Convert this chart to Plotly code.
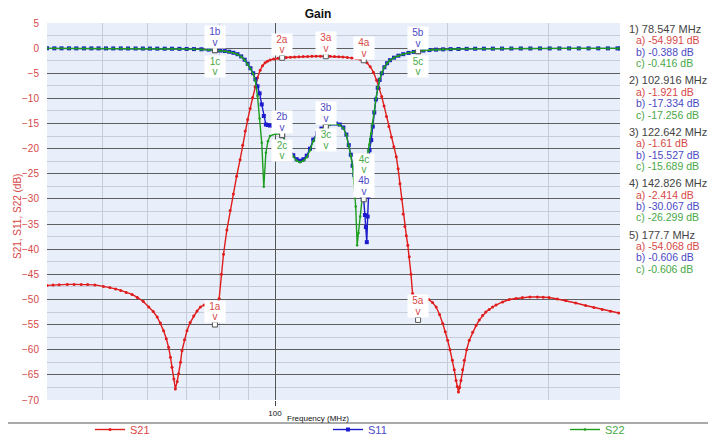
import math
import plotly.graph_objects as go

# ---------------- data ----------------
freq_s21 = [40.0, 41.0, 42.0, 43.4, 44.6, 45.9, 47.1, 48.5, 50.2, 51.5, 52.7, 53.8, 55.0, 56.3,
            57.5, 58.9, 60.2, 61.3, 62.3, 63.1, 63.9, 64.6, 65.2, 65.7, 66.1, 66.6, 67.0, 67.5,
            67.9, 68.4, 68.8, 69.5, 70.2, 71.1, 72.1, 73.1, 74.1, 75.2, 76.3, 77.4, 78.5, 79.2,
            79.9, 80.6, 81.3, 82.4, 83.5, 84.6, 85.7, 86.9, 87.8, 88.7, 89.6, 90.5, 91.4, 92.3,
            93.2, 94.2, 95.1, 96.1, 97.0, 98.0, 99.5, 101.2, 102.9, 104.6, 106.4, 108.2, 110.1,
            112.0, 114.0, 116.0, 118.0, 120.0, 122.6, 124.8, 127.0, 129.2, 131.4, 133.7, 136.1,
            138.5, 140.7, 142.8, 144.7, 146.6, 148.5, 150.4, 152.0, 153.5, 155.0, 156.5, 158.0,
            159.6, 161.2, 162.8, 164.0, 165.2, 166.3, 167.3, 168.5, 169.5, 170.5, 171.5, 172.7,
            173.8, 175.0, 176.4, 177.7, 179.2, 181.0, 183.0, 185.5, 188.3, 191.1, 193.7, 196.2,
            198.2, 200.1, 202.0, 204.0, 205.5, 207.0, 208.0, 209.0, 210.0, 211.1, 212.5, 213.9,
            216.0, 218.3, 221.2, 224.3, 227.2, 230.2, 233.3, 236.4, 239.7, 243.0, 249.5, 256.3,
            263.2, 270.2, 278.5, 287.0, 293.8, 300.8, 311.0, 321.6, 334.8, 348.4, 360.2, 372.4,
            385.0, 398.1]
s21_db = [-47.2, -47.1, -47.05, -47.0, -47.0, -47.0, -47.0, -47.1, -47.4, -47.6, -47.9, -48.2, -48.6, -49.0,
          -49.6, -50.4, -51.5, -52.4, -53.5, -54.7, -56.2, -57.8, -59.5, -61.5, -63.5, -65.8, -67.8, -66.3,
          -64.8, -62.5, -60.2, -58.0, -56.2, -54.6, -53.3, -52.3, -51.5, -51.1, -51.5, -53.0, -54.991, -53.0,
          -49.8, -45.0, -41.0, -36.2, -32.3, -29.0, -25.5, -22.2, -19.3, -16.5, -14.2, -12.0, -9.8, -7.7,
          -5.9, -4.4, -3.5, -2.9, -2.6, -2.35, -2.15, -2.0, -1.921, -1.86, -1.80, -1.75, -1.70,
          -1.67, -1.64, -1.62, -1.61, -1.60, -1.61, -1.63, -1.66, -1.70, -1.76, -1.84, -1.95,
          -2.08, -2.22, -2.414, -2.9, -3.7, -4.8, -6.4, -8.0, -9.6, -11.5, -13.6, -15.6,
          -17.7, -19.6, -21.6, -24.0, -27.0, -30.0, -33.0, -35.5, -37.3, -39.2, -41.5, -45.0,
          -48.8, -51.0, -53.0, -54.068, -53.0, -51.5, -50.3, -50.0, -50.6, -51.5, -53.0, -54.8,
          -56.4, -58.1, -60.0, -62.1, -64.0, -66.1, -67.3, -68.4, -67.5, -66.1, -64.0, -62.1,
          -60.0, -58.1, -56.5, -55.2, -54.1, -53.2, -52.5, -52.0, -51.5, -51.1, -50.5, -50.0,
          -49.8, -49.6, -49.5, -49.5, -49.55, -49.6, -49.9, -50.2, -50.7, -51.2, -51.6, -52.0,
          -52.35, -52.7]

freq_refl = [40.0, 41.2, 42.4, 43.7, 45.0, 46.4, 47.8, 49.2, 50.7, 52.2, 53.8, 55.4, 57.1, 58.8,
             60.5, 62.3, 64.2, 66.1, 68.1, 70.1, 72.2, 74.4, 76.6, 78.5, 80.2, 81.7, 83.2, 84.6,
             86.0, 87.3, 88.5, 89.6, 90.6, 91.6, 92.4, 93.2, 94.0, 94.8, 95.6, 96.4, 97.2, 98.0,
             100.4, 102.9, 105.2, 107.6, 109.1, 110.6, 112.1, 113.6, 115.1, 116.6, 118.5, 120.5,
             122.6, 124.2, 125.9, 127.7, 129.7, 131.6, 133.2, 134.5, 135.6, 136.6, 137.5, 138.3,
             139.1, 139.9, 140.8, 141.8, 142.8, 143.5, 144.1, 144.6, 145.1, 145.6, 146.2, 147.2,
             148.1, 149.0, 150.0, 151.1, 152.3, 153.6, 155.2, 156.9, 158.7, 161.3, 164.2, 167.4,
             171.0, 174.6, 177.7, 181.5, 186.0, 191.0, 196.5, 202.5, 209.0, 216.0, 223.5, 231.5,
             240.0, 249.0, 258.5, 268.5, 279.0, 290.0, 301.5, 313.5, 326.0, 339.0, 352.5, 366.5,
             381.0, 396.0, 400.0]
s11_db = [-0.04, -0.04, -0.04, -0.04, -0.05, -0.05, -0.05, -0.05, -0.06, -0.06, -0.06, -0.07, -0.07, -0.08,
          -0.09, -0.10, -0.11, -0.12, -0.14, -0.16, -0.19, -0.23, -0.29, -0.388, -0.48, -0.58, -0.72, -0.92,
          -1.20, -1.65, -2.30, -3.10, -4.00, -5.00, -6.20, -7.60, -9.00, -11.2, -13.5, -15.2, -15.3, -15.4,
          -16.3, -17.334, -19.3, -21.3, -22.1, -22.4, -22.1, -21.4, -20.0, -18.2, -16.9, -16.0,
          -15.527, -15.1, -15.0, -15.0, -15.2, -15.8, -17.2, -19.3, -21.2, -23.4, -25.2, -26.6,
          -27.6, -28.3, -28.9, -29.5, -30.067, -33.2, -35.6, -38.6, -33.5, -29.5, -20.3, -18.3,
          -15.6, -12.8, -10.2, -7.9, -6.3, -5.0, -3.8, -3.0, -2.4, -1.9, -1.5, -1.2,
          -0.95, -0.75, -0.606, -0.48, -0.38, -0.30, -0.24, -0.20, -0.17, -0.14, -0.12, -0.11,
          -0.10, -0.09, -0.08, -0.07, -0.07, -0.06, -0.06, -0.06, -0.05, -0.05, -0.05, -0.05,
          -0.05, -0.05, -0.05]
s22_db = [-0.04, -0.04, -0.04, -0.04, -0.05, -0.05, -0.05, -0.05, -0.06, -0.06, -0.06, -0.07, -0.07, -0.08,
          -0.09, -0.10, -0.11, -0.13, -0.15, -0.17, -0.20, -0.25, -0.31, -0.416, -0.50, -0.60, -0.75, -0.95,
          -1.25, -1.70, -2.35, -3.20, -4.10, -5.10, -6.5, -9.5, -14.0, -18.8, -27.6, -20.8, -18.5, -17.5,
          -17.0, -17.256, -19.5, -21.6, -22.4, -22.7, -22.4, -21.7, -20.3, -18.5, -17.1, -16.2,
          -15.689, -15.3, -15.1, -15.1, -15.3, -15.9, -17.3, -19.4, -21.4, -23.6, -27.0, -31.5,
          -39.2, -36.8, -33.5, -30.3, -26.299, -24.8, -23.5, -22.4, -21.4, -20.4, -19.2, -17.0,
          -15.0, -12.6, -10.0, -7.8, -6.2, -4.9, -3.8, -3.0, -2.4, -1.9, -1.5, -1.2,
          -0.95, -0.75, -0.606, -0.48, -0.38, -0.30, -0.24, -0.20, -0.17, -0.14, -0.12, -0.11,
          -0.10, -0.09, -0.08, -0.07, -0.07, -0.06, -0.06, -0.06, -0.05, -0.05, -0.05, -0.05,
          -0.05, -0.05, -0.05]

marker_freq = [78.547, 102.916, 122.642, 142.826, 177.7]
marker_s21 = [-54.991, -1.921, -1.61, -2.414, -54.068]
marker_s11 = [-0.388, -17.334, -15.527, -30.067, -0.606]
marker_s22 = [-0.416, -17.256, -15.689, -26.299, -0.606]

y_tick_step = 5
x_tick_vals = [100]
x_tick_text = ["100"]
x_grid_vals = [40, 50, 60, 70, 80, 90, 200, 300, 400]

# ---------------- layout helpers ----------------
W, H = 717, 435
L, R, T, B = 47, 620, 23, 400


def px_x(x):
    return (x - L) / (R - L)


def px_y(y):
    return (B - y) / (B - T)


RED, BLUE, GREEN = "#e01c1c", "#1c1ccc", "#1e9e1e"
RED_T, BLUE_T, GREEN_T = "#d64848", "#4a4ac4", "#48a848"
FONT = "Liberation Sans, Arial, sans-serif"

fig = go.Figure()
fig.add_trace(go.Scatter(
    x=freq_s21, y=s21_db, mode="lines+markers", legend="legend",
    name='<span style="color:%s">S21</span>' % RED_T,
    line=dict(color=RED, width=1.4), marker=dict(size=3, color=RED)))
fig.add_trace(go.Scatter(
    x=freq_refl, y=s11_db, mode="lines+markers", legend="legend2",
    name='<span style="color:%s">S11</span>' % BLUE_T,
    line=dict(color=BLUE, width=1.4), marker=dict(size=4, symbol="square", color=BLUE)))
fig.add_trace(go.Scatter(
    x=freq_refl, y=s22_db, mode="lines+markers", legend="legend3",
    name='<span style="color:%s">S22</span>' % GREEN_T,
    line=dict(color=GREEN, width=1.4), marker=dict(size=2.5, color=GREEN)))
fig.add_trace(go.Scatter(
    x=marker_freq * 3, y=marker_s21 + marker_s11 + marker_s22, mode="markers",
    marker=dict(symbol="square", size=5, color="white", line=dict(color="#555555", width=1)),
    showlegend=False, hoverinfo="skip"))

annotations = []

# marker labels: (label, marker index, colour, y pixel of first text line)
label_specs = [
    ("1b", 0, BLUE_T, 31.7), ("1c", 0, GREEN_T, 61.0), ("1a", 0, RED_T, 306.0),
    ("2a", 1, RED_T, 39.0), ("2b", 1, BLUE_T, 116.7), ("2c", 1, GREEN_T, 145.0),
    ("3a", 2, RED_T, 37.7), ("3b", 2, BLUE_T, 107.7), ("3c", 2, GREEN_T, 134.3),
    ("4a", 3, RED_T, 42.3), ("4c", 3, GREEN_T, 159.0), ("4b", 3, BLUE_T, 180.3),
    ("5b", 4, BLUE_T, 32.7), ("5c", 4, GREEN_T, 61.0), ("5a", 4, RED_T, 300.7),
]
for txt, idx, col, ypx in label_specs:
    xv = math.log10(marker_freq[idx])
    for t, yy in ((txt, ypx), ("v", ypx + 10.8)):
        annotations.append(dict(
            x=xv, xref="x", y=px_y(yy), yref="paper", text=t, showarrow=False,
            xanchor="center", yanchor="middle", bgcolor="white", borderpad=0,
            width=20, height=11, font=dict(family=FONT, size=10, color=col)))

# marker readout table on the right
for i in range(len(marker_freq)):
    y0 = 29.0 + 51.4 * i
    annotations.append(dict(
        x=px_x(626.5), xref="paper", y=px_y(y0), yref="paper",
        text="%d) %s MHz" % (i + 1, marker_freq[i]), showarrow=False,
        xanchor="left", yanchor="middle", font=dict(family=FONT, size=11, color="#444444")))
    for j, (lab, vals, col) in enumerate((("a", marker_s21, RED_T),
                                          ("b", marker_s11, BLUE_T),
                                          ("c", marker_s22, GREEN_T))):
        annotations.append(dict(
            x=px_x(634), xref="paper", y=px_y(y0 + 11.4 * (j + 1)), yref="paper",
            text="%s) %s dB" % (lab, vals[i]), showarrow=False,
            xanchor="left", yanchor="middle", font=dict(family=FONT, size=10.5, color=col)))

# axis titles
annotations.append(dict(
    x=px_x(17), xref="paper", y=px_y(217), yref="paper", text="S21, S11, S22 (dB)",
    textangle=-90, showarrow=False, xanchor="center", yanchor="middle",
    font=dict(family=FONT, size=10, color=RED_T)))
annotations.append(dict(
    x=px_x(318), xref="paper", y=px_y(419), yref="paper", text="Frequency (MHz)",
    showarrow=False, xanchor="center", yanchor="middle",
    font=dict(family=FONT, size=8, color="#111111")))

shapes = [dict(type="line", xref="paper", yref="paper",
               x0=px_x(8), x1=px_x(708), y0=px_y(423), y1=px_y(423),
               line=dict(color="#555555", width=1))]


def legend_at(xpx):
    return dict(orientation="h", x=px_x(xpx), xanchor="left", y=px_y(429.5), yanchor="middle",
                bgcolor="rgba(0,0,0,0)", font=dict(family=FONT, size=11), itemwidth=30)


fig.update_layout(
    width=W, height=H,
    margin=dict(l=L, r=W - R, t=T, b=H - B, pad=0, autoexpand=False),
    paper_bgcolor="white", plot_bgcolor="#e9effa",
    font=dict(family=FONT, size=10, color="#333333"),
    title=dict(text="<b>Gain</b>", x=318 / W, xanchor="center", xref="container",
               y=1 - 14 / H, yanchor="middle", yref="container",
               font=dict(family=FONT, size=12, color="#111111")),
    xaxis=dict(type="log", range=[math.log10(40), math.log10(400)],
               tickmode="array", tickvals=x_tick_vals, ticktext=x_tick_text,
               ticks="outside", ticklen=5, tickcolor="#444444",
               tickfont=dict(family=FONT, size=8, color="#111111"),
               showgrid=True, gridcolor="#555555", gridwidth=1,
               minor=dict(tickvals=x_grid_vals, showgrid=True, gridcolor="#c6ccd9", ticks=""),
               zeroline=False, showline=False, automargin=False),
    yaxis=dict(range=[-70, 5], tick0=0, dtick=y_tick_step, ticks="",
               ticklabelstandoff=7,
               tickfont=dict(family=FONT, size=10, color=RED_T),
               showgrid=True, gridcolor="#5e5e5e", gridwidth=1,
               minor=dict(dtick=2.5, showgrid=True, gridcolor="#c6ccd9"),
               zeroline=False, showline=False, automargin=False),
    legend=legend_at(90), legend2=legend_at(328), legend3=legend_at(565),
    annotations=annotations, shapes=shapes,
)

fig.write_html("out.html", config={"displayModeBar": False},
               post_script="document.body.style.margin='0px';document.body.style.padding='0px';")
